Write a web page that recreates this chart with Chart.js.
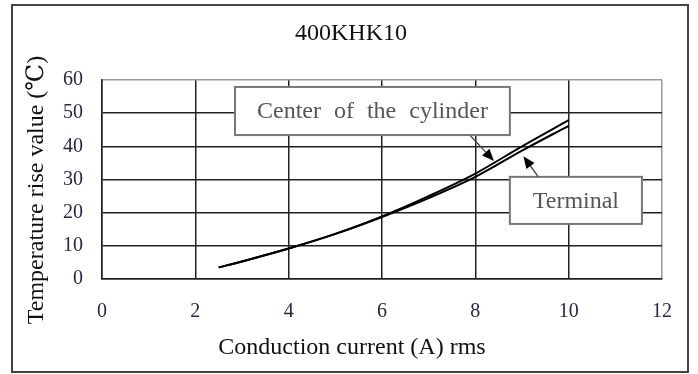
<!DOCTYPE html>
<html>
<head>
<meta charset="utf-8">
<script src="https://cdn.jsdelivr.net/npm/chart.js@4"></script>
<style>
  body { margin: 0; background: #fff; }
  canvas { display: block; }
</style>
</head>
<body>
<canvas id="tempChart" width="698" height="374"></canvas>
<script>
// values
const currents = [2.5, 3, 4, 5, 6, 7, 8, 9, 10];
const centerRise = [3.5, 5.3, 9.2, 13.6, 18.9, 25.0, 31.8, 40.0, 47.9];
const terminalRise = [3.5, 5.3, 9.2, 13.6, 18.7, 24.4, 30.8, 38.7, 46.2];
const xTicks = [0, 2, 4, 6, 8, 10, 12];
const yTicks = [0, 10, 20, 30, 40, 50, 60];

const chartTitle = '400KHK10';
const xTitle = 'Conduction current (A) rms';
const yTitle = 'Temperature rise value (\u2103)';
const centerLabel = 'Center of the cylinder';
const terminalLabel = 'Terminal';

const serif = '"Liberation Serif", "DejaVu Serif", serif';

// callout boxes + arrows, in data units
const callouts = [
  { text: centerLabel, box: [2.85, 57.9, 8.74, 43.4], from: [7.9, 43.1], to: [8.4, 35.6] },
  { text: terminalLabel, box: [8.74, 30.8, 11.57, 16.6], from: [9.35, 30.8], to: [9.03, 37.0] }
];

function drawArrow(ctx, x1, y1, x2, y2) {
  const ang = Math.atan2(y2 - y1, x2 - x1);
  const len = 12, half = 5;
  const bx = x2 - len * Math.cos(ang), by = y2 - len * Math.sin(ang);
  ctx.strokeStyle = '#444';
  ctx.lineWidth = 1.3;
  ctx.beginPath();
  ctx.moveTo(x1, y1);
  ctx.lineTo(bx, by);
  ctx.stroke();
  ctx.fillStyle = '#000';
  ctx.beginPath();
  ctx.moveTo(x2, y2);
  ctx.lineTo(bx + half * Math.sin(ang), by - half * Math.cos(ang));
  ctx.lineTo(bx - half * Math.sin(ang), by + half * Math.cos(ang));
  ctx.closePath();
  ctx.fill();
}

const decor = {
  id: 'decor',
  beforeDraw(chart) {
    const ctx = chart.ctx;
    ctx.save();
    ctx.fillStyle = '#fff';
    ctx.fillRect(0, 0, chart.width, chart.height);
    ctx.restore();
  },
  afterDraw(chart) {
    const ctx = chart.ctx;
    const xs = chart.scales.x, ys = chart.scales.y;
    ctx.save();
    // outer frame
    ctx.strokeStyle = '#444';
    ctx.lineWidth = 2;
    ctx.strokeRect(12, 5, 676, 367);

    ctx.fillStyle = '#111';
    ctx.textAlign = 'center';
    ctx.textBaseline = 'middle';
    ctx.font = '24px ' + serif;
    ctx.fillText(chartTitle, 351, 34);
    ctx.fillText(xTitle, 352, 348);

    // y title is a bit below the plot centre in the original
    ctx.save();
    ctx.translate(37, 190);
    ctx.rotate(-Math.PI / 2);
    ctx.fillText(yTitle, 0, 0);
    ctx.restore();

    callouts.forEach(c => {
      const l = xs.getPixelForValue(c.box[0]), t = ys.getPixelForValue(c.box[1]);
      const r = xs.getPixelForValue(c.box[2]), b = ys.getPixelForValue(c.box[3]);
      ctx.fillStyle = '#fff';
      ctx.fillRect(l, t, r - l, b - t);
      ctx.strokeStyle = '#777';
      ctx.lineWidth = 2;
      ctx.strokeRect(l, t, r - l, b - t);
      ctx.fillStyle = '#555';
      ctx.font = '24px ' + serif;
      ctx.wordSpacing = '7px';
      ctx.fillText(c.text, (l + r) / 2, (t + b) / 2 + 1);
      ctx.wordSpacing = '0px';
      drawArrow(ctx, xs.getPixelForValue(c.from[0]), ys.getPixelForValue(c.from[1]),
        xs.getPixelForValue(c.to[0]), ys.getPixelForValue(c.to[1]));
    });
    ctx.restore();
  }
};

const tickFont = { family: serif, size: 20 };
const tickColor = '#262845';

new Chart(document.getElementById('tempChart'), {
  type: 'line',
  data: {
    datasets: [
      {
        label: centerLabel,
        data: currents.map((c, i) => ({ x: c, y: centerRise[i] })),
        borderColor: '#000',
        borderWidth: 2,
        pointRadius: 0,
        tension: 0.35
      },
      {
        label: terminalLabel,
        data: currents.map((c, i) => ({ x: c, y: terminalRise[i] })),
        borderColor: '#000',
        borderWidth: 2,
        pointRadius: 0,
        tension: 0.35
      }
    ]
  },
  options: {
    responsive: false,
    animation: false,
    layout: { padding: { left: 62, top: 80, right: 36, bottom: 35 } },
    plugins: {
      legend: { display: false },
      tooltip: { enabled: false }
    },
    scales: {
      x: {
        type: 'linear',
        min: 0,
        max: 12,
        afterBuildTicks: s => { s.ticks = xTicks.map(v => ({ value: v })); },
        afterFit: s => { s.height = 60; },
        grid: {
          color: c => c.tick && c.tick.value === 12 ? '#999' : '#222',
          lineWidth: 1.5,
          drawTicks: false
        },
        border: { color: '#222', width: 1.5 },
        ticks: { font: tickFont, color: tickColor, padding: 21, maxRotation: 0 }
      },
      y: {
        min: 0,
        max: 60,
        afterBuildTicks: s => { s.ticks = yTicks.map(v => ({ value: v })); },
        afterFit: s => { s.width = 40; },
        grid: {
          color: c => c.tick && c.tick.value === 60 ? '#999' : '#222',
          lineWidth: 1.5,
          drawTicks: false
        },
        border: { color: '#222', width: 1.5 },
        ticks: { font: tickFont, color: tickColor, padding: 19 }
      }
    }
  },
  plugins: [decor]
});
</script>
</body>
</html>
